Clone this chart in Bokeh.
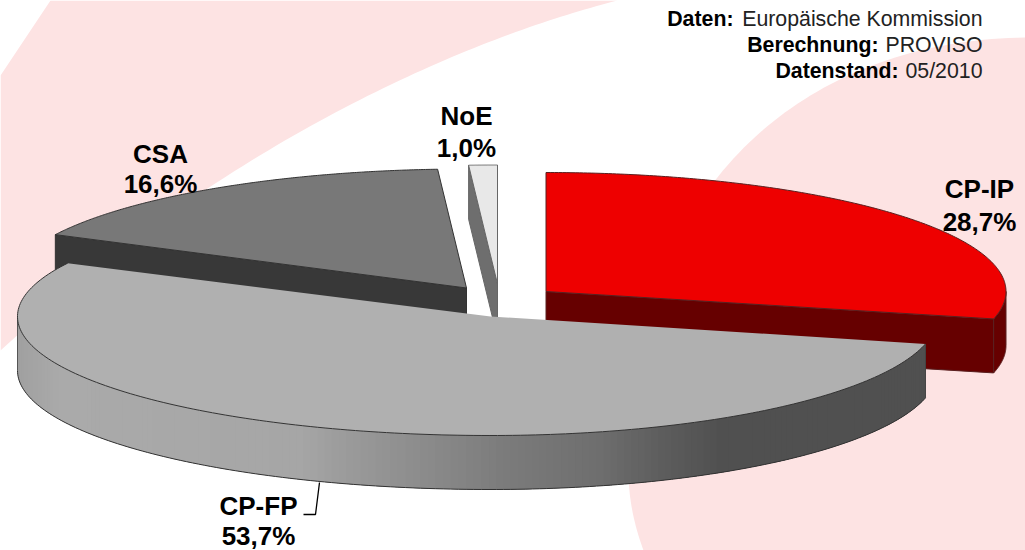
import numpy as np
from bokeh.plotting import figure
from bokeh.core.properties import value
from bokeh.embed import file_html
from bokeh.resources import INLINE

# ---- data ----
categories = ["CP-IP", "CP-FP", "CSA", "NoE"]
shares = [28.7, 53.7, 16.6, 1.0]
source_bold = ["Daten:", "Berechnung:", "Datenstand:"]
source_regular = ["Europäische Kommission", "PROVISO", "05/2010"]

# ---- layout (page pixels) ----
apex = {"CP-IP": (545.5, 291), "CP-FP": (490, 316), "CSA": (466, 287.5), "NoE": (497, 283.5)}
rx_left = {"CP-IP": 460, "CP-FP": 473, "CSA": 460, "NoE": 460}
rx_right = {"CP-IP": 460, "CP-FP": 447, "CSA": 460, "NoE": 460}
RY = 119
DEPTH = 54
top_col = {"CP-IP": "#ee0000", "CP-FP": "#b0b0b0", "CSA": "#787878", "NoE": "#e8e8e8"}
side_col = {"CP-IP": "#660000", "CP-FP": "#505050", "CSA": "#383838", "NoE": "#6e6e6e"}
edge_col = {"CP-IP": "#5a2020", "CP-FP": "#333333", "CSA": "#333333", "NoE": "#666666"}
label_pos = {"CP-IP": (979, 188, 221), "CP-FP": (258, 505, 535.5), "CSA": (160, 153, 183), "NoE": (466, 115, 147)}

PINK = "#fde3e3"


def bez(p0, p1, p2, p3, n=80):
    t = np.linspace(0, 1, n)[:, None]
    pts = ((1 - t) ** 3) * np.array(p0) + 3 * ((1 - t) ** 2) * t * np.array(p1) \
        + 3 * (1 - t) * t ** 2 * np.array(p2) + t ** 3 * np.array(p3)
    return pts[:, 0], pts[:, 1]


def arc(name, a0, a1, n=200):
    ang = np.radians(np.linspace(a0, a1, n))
    cx, cy = apex[name]
    s, c = np.sin(ang), np.cos(ang)
    x = cx + s * np.where(s < 0, rx_left[name], rx_right[name])
    y = cy - c * RY
    return x, y


spans = {}
cum = 0.0
for cat, v in zip(categories, shares):
    spans[cat] = (cum * 3.6, (cum + v) * 3.6)
    cum += v

p = figure(width=1025, height=550, x_range=(0, 1025), y_range=(550, 0),
           output_backend="svg", toolbar_location=None, min_border=0,
           background_fill_color="white", border_fill_color="white",
           outline_line_color=None)
p.axis.visible = False
p.grid.visible = False
p.styles = {"position": "absolute", "left": "0px", "top": "0px"}

# ---- background swoops ----
bx, by = bez((617, 0), (480, 35), (240, 130), (0, 350))
p.patch(list(bx) + [0, 50], list(by) + [75, 0], fill_color=PINK, line_color=None)
bx, by = bez((1025, 37), (800, 40), (625, 190), (628, 470))
bx2, by2 = bez((628, 470), (628, 500), (634, 525), (643, 550), 20)
p.patch(list(bx) + list(bx2) + [1025], list(by) + list(by2) + [550], fill_color=PINK, line_color=None)


def cut_face(name, angle):
    ax, ay = apex[name]
    ex, ey = arc(name, angle, angle, 1)
    xs = [ax, ex[0], ex[0], ax]
    ys = [ay, ey[0], ey[0] + DEPTH, ay + DEPTH]
    p.patch(xs, ys, fill_color=side_col[name], line_color=edge_col[name], line_width=1)


def top_face(name):
    a0, a1 = spans[name]
    ax, ay = apex[name]
    x, y = arc(name, a0, a1)
    p.patch([ax] + list(x), [ay] + list(y), fill_color=top_col[name],
            line_color=edge_col[name], line_width=1)


# CSA
cut_face("CSA", spans["CSA"][0])
top_face("CSA")
# NoE
cut_face("NoE", spans["NoE"][0])
top_face("NoE")
# CP-IP
a0, a1 = spans["CP-IP"]
cut_face("CP-IP", a1)
x, y = arc("CP-IP", 90, a1, 40)
p.patch(list(x) + list(x[::-1]), list(y) + list(y[::-1] + DEPTH),
        fill_color=side_col["CP-IP"], line_color=edge_col["CP-IP"], line_width=1)
top_face("CP-IP")

# CP-FP: shaded outer wall from the right corner round to the leftmost point
a0, a1 = spans["CP-FP"]
shade_x = [17, 60, 300, 340, 420, 500, 600, 650, 720, 925]
shade_v = [160, 170, 166, 156, 140, 124, 110, 96, 80, 80]
x, y = arc("CP-FP", a0, 270, 181)
xs, ys, cols = [], [], []
for i in range(len(x) - 1):
    j = min(i + 3, len(x) - 1)
    seg_x = list(x[i:j + 1])
    seg_y = list(y[i:j + 1])
    xs.append(seg_x + seg_x[::-1])
    ys.append(seg_y + [v + DEPTH for v in seg_y[::-1]])
    g = int(round(np.interp((x[i] + x[i + 1]) / 2, shade_x, shade_v)))
    cols.append(f"#{g:02x}{g:02x}{g:02x}")
p.patches(xs, ys, fill_color=cols, line_color=None)
p.line(x, y + DEPTH, line_color="#333333", line_width=1)
p.line([x[0], x[0]], [y[0], y[0] + DEPTH], line_color="#444444", line_width=1)
p.line([x[-1], x[-1]], [y[-1], y[-1] + DEPTH], line_color="#555555", line_width=1)

# CP-FP top: only its curved rim is outlined
ax, ay = apex["CP-FP"]
x, y = arc("CP-FP", *spans["CP-FP"])
p.patch([ax] + list(x), [ay] + list(y), fill_color=top_col["CP-FP"], line_color=None)
p.line(x, y, line_color=edge_col["CP-FP"], line_width=1)

# leader line
p.line([319, 315, 303], [482, 514, 514], line_color="black", line_width=1.3)

# ---- labels ----
font = value("Liberation Sans")
for cat, v in zip(categories, shares):
    lx, y1, y2 = label_pos[cat]
    pct = f"{v:.1f}".replace(".", ",") + "%"
    p.text([lx, lx], [y1, y2], text=[cat, pct], text_font=font, text_font_style="bold",
           text_font_size="26px", text_align="center", text_baseline="middle", text_color="black")

src_y = [18, 44, 70]
p.text([733, 878, 898], src_y, text=source_bold, text_font=font, text_font_style="bold",
       text_font_size="21.3px", text_align="right", text_baseline="middle", text_color="black")
p.text([982, 982, 982], src_y, text=source_regular, text_font=font,
       text_font_size="21.3px", text_align="right", text_baseline="middle", text_color="#222222")

open("out.html", "w").write(file_html(p, INLINE))
